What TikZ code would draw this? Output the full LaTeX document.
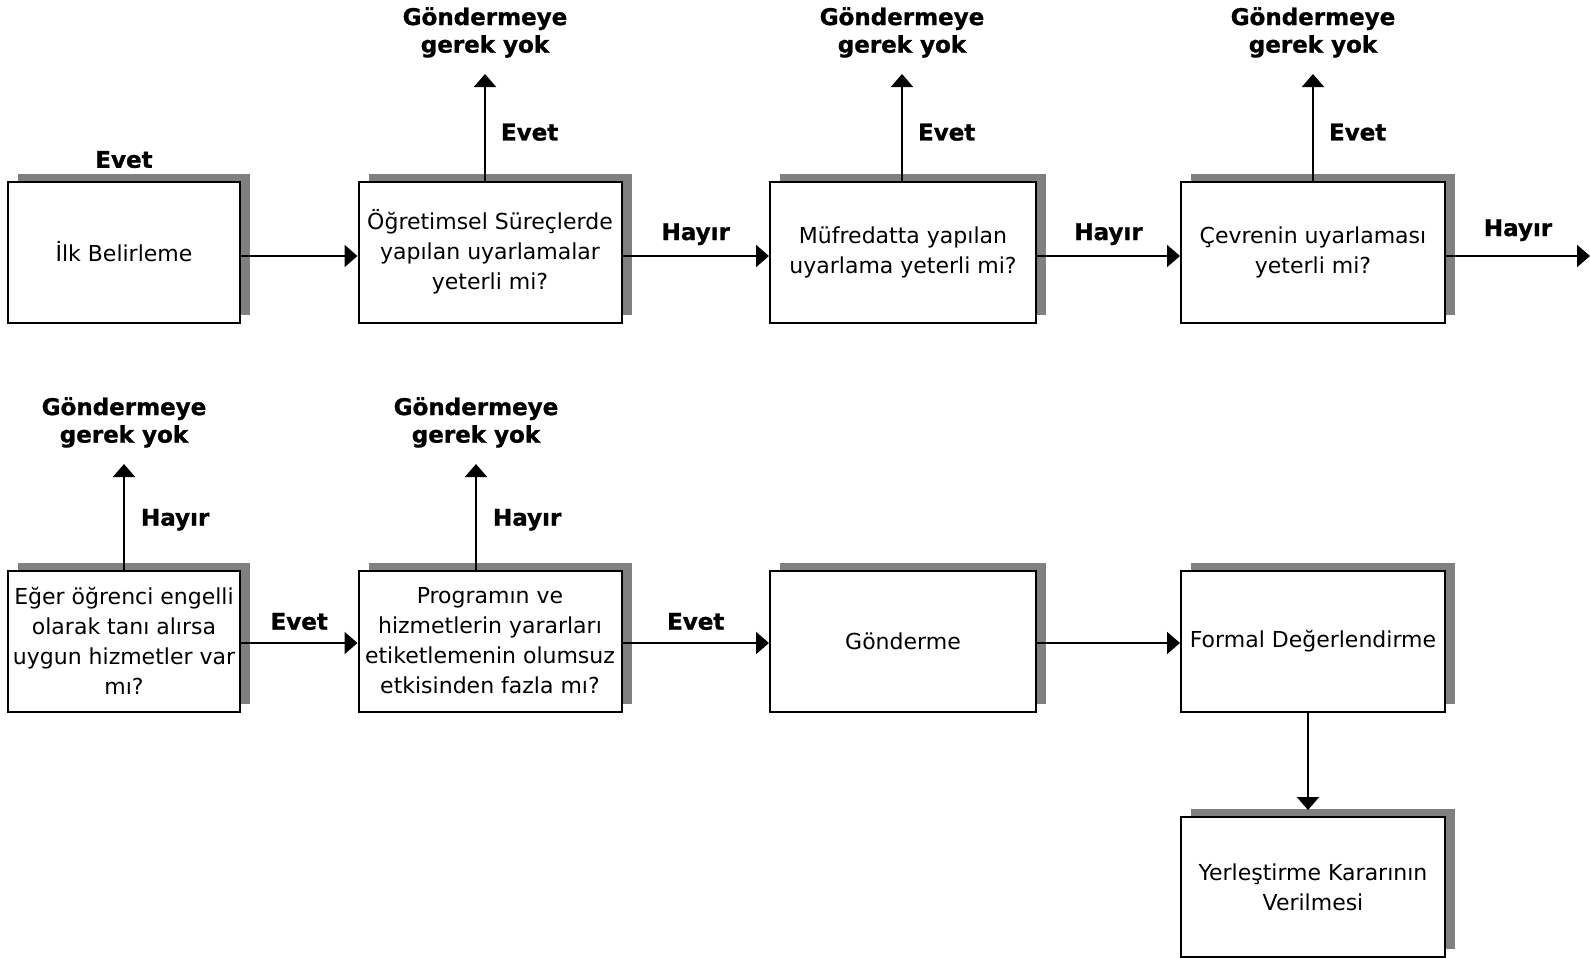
\documentclass[tikz,border=0pt]{standalone}
\usepackage{fontspec}
\setmainfont{DejaVu Sans}
\newfontfamily\lblfont{DejaVu Sans Bold}[FakeBold=1]
\usetikzlibrary{positioning,shadows,arrows.meta}

\begin{document}
\begin{tikzpicture}[x=0.5pt,y=-0.5pt,
  box/.style={draw,line width=1pt,fill=white,align=center,inner sep=2pt,
    minimum height=70.5pt,font=\fontsize{11}{15}\selectfont,
    general shadow={draw=none,fill=black!50,shadow xshift=5pt,shadow yshift=4pt}},
  lbl/.style={align=center,inner sep=0pt,font=\fontsize{11.5}{13.8}\selectfont\lblfont},
  arr/.style={line width=1pt,-{Triangle[length=6.5pt,width=11pt]}}]
\useasboundingbox (0,0) rectangle (1590,958);

% first row
\node[box,minimum width=116pt] (ilk) at (124,252) {İlk Belirleme};
\node[box,minimum width=131.5pt] (ogr) at (490,252) {Öğretimsel Süreçlerde\\yapılan uyarlamalar\\yeterli mi?};
\node[box,minimum width=133pt] (muf) at (903,252) {Müfredatta yapılan\\uyarlama yeterli mi?};
\node[box,minimum width=132pt] (cev) at (1313,252) {Çevrenin uyarlaması\\yeterli mi?};
\node[lbl,above=6pt of ilk] (evetilk) {Evet};

% second row
\node[box,minimum width=116pt] (eger) at (124,641) {Eğer öğrenci engelli\\olarak tanı alırsa\\uygun hizmetler var\\mı?};
\node[box,minimum width=131.5pt] (prog) at (490,641) {Programın ve\\hizmetlerin yararları\\etiketlemenin olumsuz\\etkisinden fazla mı?};
\node[box,minimum width=133pt] (gon) at (903,641) {Gönderme};
\node[box,minimum width=132pt] (formal) at (1313,641) {Formal Değerlendirme};
\node[box,minimum width=132pt,minimum height=70pt] (yer) at (1313,887) {Yerleştirme Kararının\\Verilmesi};

% tips of the upward arrows
\coordinate (togr) at (485,74);
\coordinate (tmuf) at (902,74);
\coordinate (tcev) at (1313,74);
\coordinate (teger) at (124,464);
\coordinate (tprog) at (476,464);
\coordinate (son) at (1590,256);

\node[lbl,above=8pt of togr] (gogr) {Göndermeye\\gerek yok};
\node[lbl,above=8pt of tmuf] (gmuf) {Göndermeye\\gerek yok};
\node[lbl,above=8pt of tcev] (gcev) {Göndermeye\\gerek yok};
\node[lbl,above=8pt of teger] (geger) {Göndermeye\\gerek yok};
\node[lbl,above=8pt of tprog] (gprog) {Göndermeye\\gerek yok};

\draw[arr] (togr |- ogr.north) -- (togr) node[lbl,midway,right=7.5pt,yshift=-2.5pt] {Evet};
\draw[arr] (tmuf |- muf.north) -- (tmuf) node[lbl,midway,right=7.5pt,yshift=-2.5pt] {Evet};
\draw[arr] (tcev |- cev.north) -- (tcev) node[lbl,midway,right=7.5pt,yshift=-2.5pt] {Evet};
\draw[arr] (teger |- eger.north) -- (teger) node[lbl,midway,right=8pt,yshift=-1.5pt] {Hayır};
\draw[arr] (tprog |- prog.north) -- (tprog) node[lbl,midway,right=8pt,yshift=-1.5pt] {Hayır};

% horizontal arrows
\draw[arr] ([yshift=-2pt]ilk.east) -- ([yshift=-2pt]ilk.east -| ogr.west);
\draw[arr] ([yshift=-2pt]ogr.east) -- ([yshift=-2pt]ogr.east -| muf.west) node[lbl,midway,above=5pt] {Hayır};
\draw[arr] ([yshift=-2pt]muf.east) -- ([yshift=-2pt]muf.east -| cev.west) node[lbl,midway,above=5pt] {Hayır};
\draw[arr] ([yshift=-2pt]cev.east) -- (son) node[lbl,midway,above=7pt] {Hayır};
\draw[arr] ([yshift=-1pt]eger.east) -- ([yshift=-1pt]eger.east -| prog.west) node[lbl,midway,above=6pt] {Evet};
\draw[arr] ([yshift=-1pt]prog.east) -- ([yshift=-1pt]prog.east -| gon.west) node[lbl,midway,above=6pt] {Evet};
\draw[arr] ([yshift=-1pt]gon.east) -- ([yshift=-1pt]gon.east -| formal.west);
\draw[arr,shorten >=3pt] ([xshift=-2.5pt]formal.south) -- ([xshift=-2.5pt]yer.north);
\end{tikzpicture}
\end{document}
